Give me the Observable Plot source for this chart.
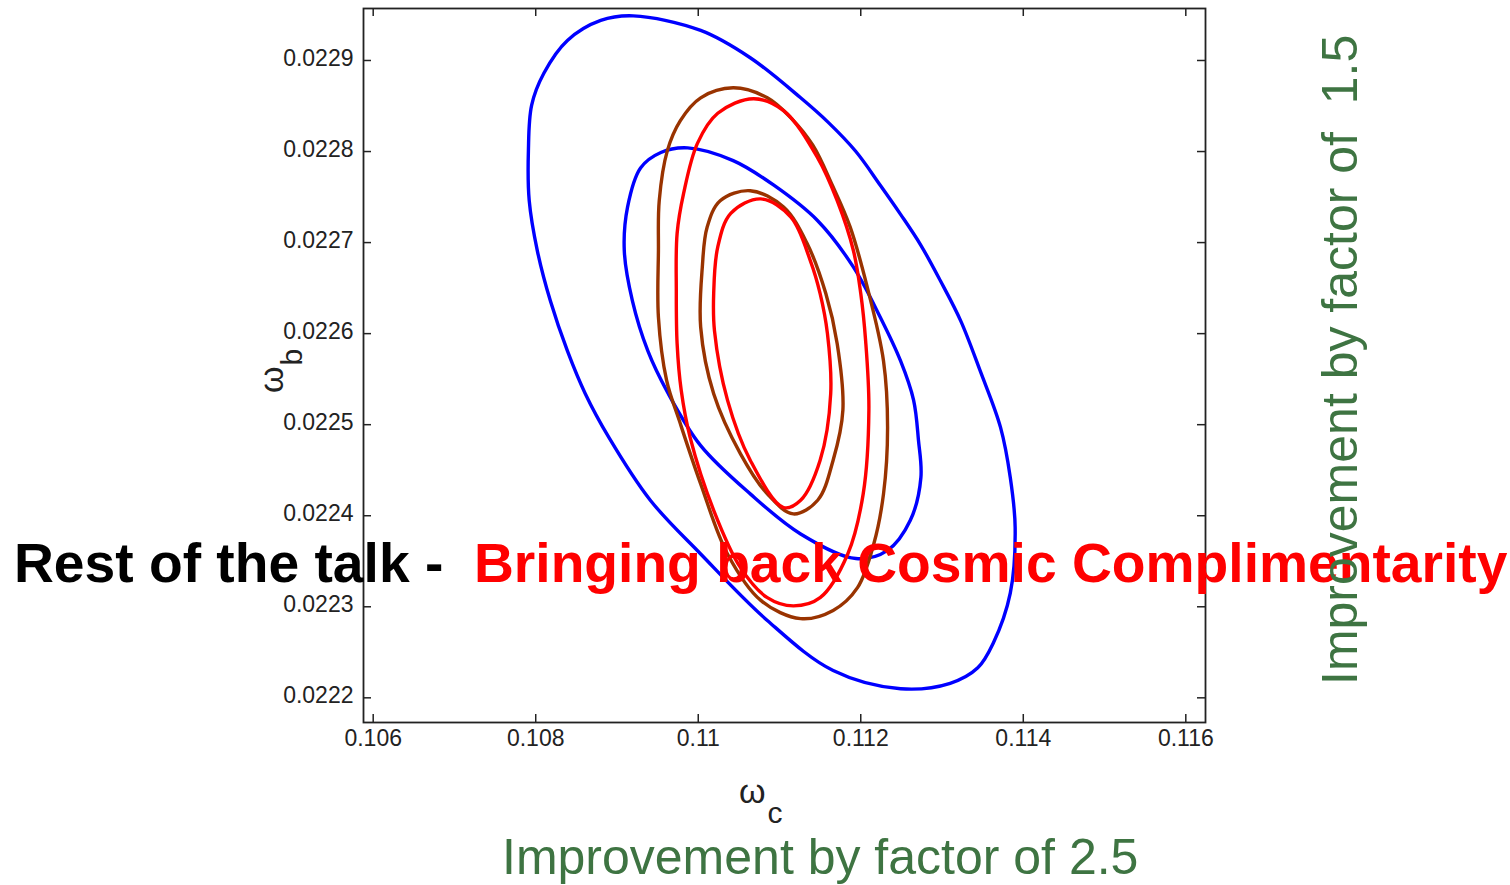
<!DOCTYPE html>
<html>
<head>
<meta charset="utf-8">
<script src="https://cdn.jsdelivr.net/npm/d3@7"></script>
<script src="https://cdn.jsdelivr.net/npm/@observablehq/plot@0.6"></script>
<style>
  html, body { margin: 0; padding: 0; background: #fff; }
  #wrap { position: relative; width: 1510px; height: 885px; overflow: hidden; font-family: "Liberation Sans", Arial, sans-serif; }
  #wrap svg { position: absolute; left: 0; top: 0; }
  .note { position: absolute; line-height: 1; white-space: pre; }
</style>
</head>
<body>
<div id="wrap"></div>
<script>
// Axis ticks
const xTicks = [0.106, 0.108, 0.11, 0.112, 0.114, 0.116];
const yTicks = [0.0222, 0.0223, 0.0224, 0.0225, 0.0226, 0.0227, 0.0228, 0.0229];

// Confidence contours in the (omega_c, omega_b) plane, as [omega_c, omega_b] points
const blueOuter = [
  [0.10920, 0.022949], [0.11003, 0.022933], [0.11064, 0.022903], [0.11126, 0.022859],
  [0.11160, 0.022832], [0.11194, 0.022800], [0.11224, 0.022763], [0.11249, 0.022731],
  [0.11274, 0.022697], [0.11298, 0.022658], [0.11323, 0.022614], [0.11347, 0.022559],
  [0.11372, 0.022497], [0.11384, 0.022442], [0.11390, 0.022387], [0.11384, 0.022315],
  [0.11363, 0.022260], [0.11344, 0.022233], [0.11310, 0.022216], [0.11249, 0.022210],
  [0.11166, 0.022230], [0.11085, 0.022285], [0.11003, 0.022358], [0.10941, 0.022417],
  [0.10890, 0.022486], [0.10861, 0.022534], [0.10839, 0.022581], [0.10818, 0.022636],
  [0.10802, 0.022691], [0.10792, 0.022746], [0.10791, 0.022801], [0.10795, 0.022851],
  [0.10810, 0.022886], [0.10839, 0.022922], [0.10880, 0.022944]
];
const blueInner = [
  [0.10987, 0.022804], [0.11043, 0.022790], [0.11093, 0.022763], [0.11147, 0.022724],
  [0.11191, 0.022673], [0.11224, 0.022618], [0.11249, 0.022570], [0.11265, 0.022527],
  [0.11271, 0.022483], [0.11274, 0.022442], [0.11261, 0.022395], [0.11233, 0.022362],
  [0.11194, 0.022353], [0.11126, 0.022380], [0.11064, 0.022424], [0.11003, 0.022477],
  [0.10962, 0.022536], [0.10938, 0.022581], [0.10919, 0.022636], [0.10909, 0.022691],
  [0.10913, 0.022739], [0.10929, 0.022782], [0.10954, 0.022799]
];
const brownOuter = [
  [0.11043, 0.022870], [0.11085, 0.022859], [0.11114, 0.022837], [0.11141, 0.022807],
  [0.11165, 0.022763], [0.11187, 0.022717], [0.11208, 0.022651], [0.11228, 0.022570],
  [0.11233, 0.022497], [0.11228, 0.022424], [0.11216, 0.022369], [0.11196, 0.022321],
  [0.11166, 0.022296], [0.11126, 0.022287], [0.11077, 0.022307], [0.11036, 0.022358],
  [0.11003, 0.022435], [0.10978, 0.022501], [0.10961, 0.022549], [0.10951, 0.022618],
  [0.10951, 0.022691], [0.10952, 0.022746], [0.10962, 0.022801], [0.10978, 0.022834],
  [0.11003, 0.022859]
];
const brownInner = [
  [0.11064, 0.022757], [0.11105, 0.022739], [0.11134, 0.022699], [0.11157, 0.022644],
  [0.11171, 0.022589], [0.11178, 0.022516], [0.11166, 0.022461], [0.11147, 0.022417],
  [0.11117, 0.022402], [0.11085, 0.022424], [0.11052, 0.022468], [0.11019, 0.022534],
  [0.11003, 0.022607], [0.11005, 0.022673], [0.11011, 0.022717], [0.11027, 0.022746]
];
const redOuter = [
  [0.11068, 0.022858], [0.11105, 0.022845], [0.11147, 0.022793], [0.11171, 0.022746],
  [0.11191, 0.022691], [0.11200, 0.022644], [0.11206, 0.022592], [0.11210, 0.022516],
  [0.11203, 0.022424], [0.11184, 0.022358], [0.11150, 0.022310], [0.11117, 0.022301],
  [0.11085, 0.022310], [0.11052, 0.022343], [0.11019, 0.022406], [0.10990, 0.022486],
  [0.10979, 0.022538], [0.10974, 0.022589], [0.10973, 0.022647], [0.10974, 0.022710],
  [0.10982, 0.022754], [0.10999, 0.022809], [0.11024, 0.022842]
];
const redInner = [
  [0.11077, 0.022748], [0.11114, 0.022728], [0.11138, 0.022680], [0.11150, 0.022644],
  [0.11159, 0.022600], [0.11163, 0.022534], [0.11150, 0.022461], [0.11126, 0.022417],
  [0.11105, 0.022409], [0.11064, 0.022461], [0.11036, 0.022527], [0.11020, 0.022603],
  [0.11019, 0.022644], [0.11024, 0.022695], [0.11040, 0.022732]
];

const contours = [
  {points: blueOuter, color: "#0000ff"},
  {points: blueInner, color: "#0000ff"},
  {points: brownOuter, color: "#993300"},
  {points: brownInner, color: "#993300"},
  {points: redOuter, color: "#ff0000"},
  {points: redInner, color: "#ff0000"}
];

const axisInk = "#222";
const tickLen = 8;
const W = 1510, H = 885;
const mL = 363, mR = 305, mT = 8, mB = 163;
const frameW = W - mL - mR, frameH = H - mT - mB;

const chart = Plot.plot({
  width: W,
  height: H,
  marginLeft: mL,
  marginRight: mR,
  marginTop: mT,
  marginBottom: mB,
  x: {domain: [0.1058806, 0.1162424]},
  y: {domain: [0.0221729, 0.0229571]},
  style: {
    fontFamily: "'Liberation Sans', Arial, sans-serif",
    fontSize: "23px",
    color: "#222",
    background: "transparent",
    overflow: "visible"
  },
  marks: [
    ...contours.map(c => Plot.line(c.points, {
      x: d => d[0], y: d => d[1],
      stroke: c.color, strokeWidth: 3.4,
      curve: "catmull-rom-closed", strokeLinejoin: "round"
    })),
    Plot.frame({stroke: axisInk, strokeWidth: 1.8}),
    // inward ticks on all four sides
    Plot.tickX(xTicks, {x: d => d, insetTop: frameH - tickLen, stroke: axisInk, strokeWidth: 1.5}),
    Plot.tickX(xTicks, {x: d => d, insetBottom: frameH - tickLen, stroke: axisInk, strokeWidth: 1.5}),
    Plot.tickY(yTicks, {y: d => d, insetRight: frameW - tickLen, stroke: axisInk, strokeWidth: 1.5}),
    Plot.tickY(yTicks, {y: d => d, insetLeft: frameW - tickLen, stroke: axisInk, strokeWidth: 1.5}),
    Plot.axisX({ticks: xTicks, tickSize: 0, tickPadding: 7, tickFormat: d => String(d), label: null}),
    Plot.axisY({ticks: yTicks, tickSize: 0, tickPadding: 10, dy: -2, tickFormat: d => String(d), label: null})
  ]
});

const wrap = document.getElementById("wrap");
wrap.appendChild(chart);

function note(html, css) {
  const el = document.createElement("div");
  el.className = "note";
  el.innerHTML = html;
  Object.assign(el.style, css);
  wrap.appendChild(el);
  return el;
}

// axis titles
note('ω<span style="position:relative;top:20px;font-size:30px;margin-left:2px">c</span>',
  {left: "739px", top: "774px", fontSize: "34px", color: "#222"});
note('ω<span style="position:relative;top:19px;font-size:30px;margin-left:1px">b</span>',
  {left: "254px", top: "393px", fontSize: "34px", color: "#222",
   transformOrigin: "0 0", transform: "rotate(-90deg)"});

// slide annotations
note('Rest of the talk -  <span style="color:#ff0000">Bringing back Cosmic Complimentarity</span>',
  {left: "14px", top: "536px", fontSize: "55.2px", fontWeight: "bold", color: "#000"});
note('Improvement by factor of 2.5',
  {left: "502px", top: "832px", fontSize: "50px", color: "#3e7442"});
note('Improvement by factor of  1.5',
  {left: "1315px", top: "685px", fontSize: "50px", color: "#3e7442",
   transformOrigin: "0 0", transform: "rotate(-90deg)"});
</script>
</body>
</html>
